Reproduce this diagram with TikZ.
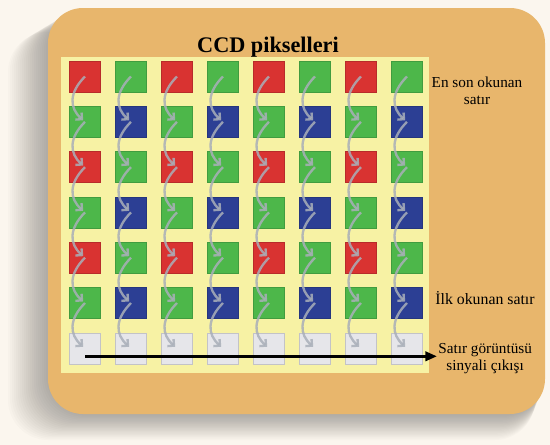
\documentclass[tikz,border=0pt]{standalone}
\usepackage{fontspec}
\setmainfont{Liberation Serif}
\usetikzlibrary{arrows.meta}
\usetikzlibrary{calc}

\definecolor{bgcream}{HTML}{FBF6EE}
\definecolor{boardtan}{HTML}{E8B66C}
\definecolor{panelyellow}{HTML}{F7F2A4}
\definecolor{ccdred}{HTML}{D93331}
\definecolor{ccdgreen}{HTML}{4DB74A}
\definecolor{ccdblue}{HTML}{2C3F94}
\definecolor{ccdgrey}{HTML}{E6E6EA}
\definecolor{flowgrey}{HTML}{A9AFB9}

\begin{document}
\begin{tikzpicture}[x=0.03cm,y=-0.03cm,
  pix/.style={minimum size=0.93cm,inner sep=0pt,line width=0.5pt,draw=#1!85!black,fill=#1},
  flow/.style={draw=flowgrey,line width=2pt,opacity=0.85,shorten >=2pt,
    -{Straight Barb[length=4pt,width=8pt]}},
  sigline/.style={line width=2.4pt,-{Triangle[length=10pt,width=8pt]}},
  lbl/.style={font=\fontsize{13}{14.5}\selectfont,align=center,inner sep=1pt}]
\useasboundingbox (0,0) rectangle (550,445);
\fill[bgcream] (0,0) rectangle (550,445);
% shadow
\foreach \k in {1,...,20}
  \fill[black,opacity=0.016,rounded corners=1.2cm] ({48-2*\k},{8+1.2*\k}) rectangle ({545-0.5*\k},{414+1.3*\k});
% board and panel
\fill[boardtan,rounded corners=1.05cm] (48,8) rectangle (545,414);
\fill[panelyellow] (61,57) rectangle (429,373);
\node[font=\fontsize{19}{22}\selectfont\bfseries,anchor=base] (title) at (268,52.5) {CCD pikselleri};
% pixels
\foreach \r/\ca/\cb in {1/ccdred/ccdgreen,2/ccdgreen/ccdblue,3/ccdred/ccdgreen,
    4/ccdgreen/ccdblue,5/ccdred/ccdgreen,6/ccdgreen/ccdblue,7/ccdgrey/ccdgrey}
  \foreach \c in {1,...,8} {
    \ifodd\c \def\col{\ca}\else\def\col{\cb}\fi
    \node[pix=\col] (p-\r-\c) at ({39+46*\c},{31.2+45.3*\r}) {};
  }
% row shifts
\foreach \r [evaluate=\r as \n using int(\r+1)] in {1,...,6}
  \foreach \c in {1,...,8}
    \draw[flow] (p-\r-\c.center) .. controls +(-16,16) and +(-16,-14) .. (p-\n-\c.center);
% labels
\node[lbl] (last) at (477,90.5) {En son okunan\\satır};
\node[lbl,font=\fontsize{13.5}{15}\selectfont] (first) at (485,298) {İlk okunan satır};
\node[lbl,anchor=west] (out) at (437,359) {Satır görüntüsü\\sinyali çıkışı};
\coordinate (sig) at ($(p-7-1.center)+(0,8)$);
\draw[sigline] (sig) -- (sig -| out.west);
\end{tikzpicture}
\end{document}
